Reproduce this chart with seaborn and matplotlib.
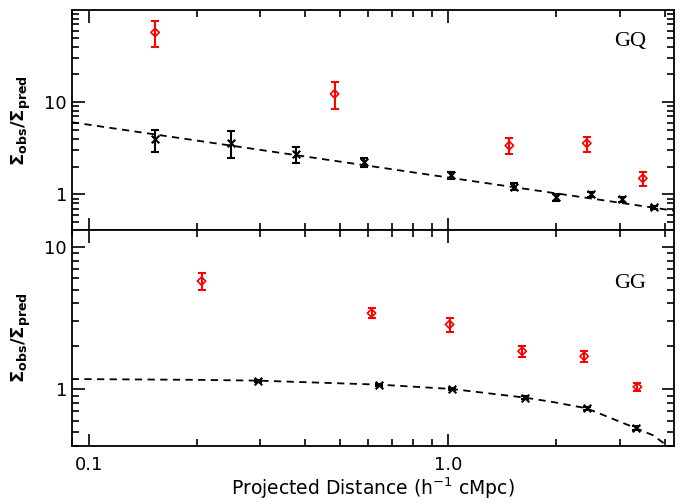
import numpy as np
import pandas as pd
import seaborn as sns
import matplotlib.pyplot as plt
from matplotlib.ticker import LogLocator, FixedLocator, NullFormatter

# GQ panel: red diamonds (observed excess) and black crosses (with fit)
gq_red_x = [0.153, 0.483, 1.48, 2.43, 3.48]
gq_red_y = [57.2, 12.3, 3.38, 3.58, 1.49]
gq_red_lo = [39.3, 8.46, 2.74, 2.88, 1.23]
gq_red_hi = [75.3, 16.5, 4.06, 4.23, 1.73]

gq_blk_x = [0.153, 0.249, 0.378, 0.585, 1.017, 1.52, 1.99, 2.50, 3.05, 3.74]
gq_blk_y = [3.96, 3.64, 2.74, 2.23, 1.62, 1.21, 0.928, 1.0, 0.882, 0.722]
gq_blk_lo = [2.86, 2.48, 2.21, 2.0, 1.47, 1.105, 0.839, 0.943, 0.825, 0.70]
gq_blk_hi = [5.0, 4.84, 3.30, 2.50, 1.76, 1.32, 1.008, 1.06, 0.943, 0.745]

gq_model_x = [0.0898, 4.25]
gq_model_y = [6.06, 0.664]

# GG panel
gg_red_x = [0.206, 0.612, 1.009, 1.606, 2.39, 3.36]
gg_red_y = [5.74, 3.42, 2.85, 1.85, 1.705, 1.04]
gg_red_lo = [4.96, 3.15, 2.54, 1.69, 1.56, 0.968]
gg_red_hi = [6.57, 3.69, 3.14, 2.02, 1.85, 1.108]

gg_blk_x = [0.296, 0.644, 1.023, 1.638, 2.43, 3.34]
gg_blk_y = [1.15, 1.078, 1.005, 0.874, 0.735, 0.532]
gg_blk_lo = [1.13, 1.06, 0.985, 0.855, 0.72, 0.515]
gg_blk_hi = [1.17, 1.096, 1.025, 0.893, 0.75, 0.55]

gg_model_x = [0.0897, 0.2, 0.296, 0.644, 1.023, 1.638, 1.98, 2.43, 3.34, 3.72, 4.25]
gg_model_y = [1.18, 1.165, 1.15, 1.078, 1.005, 0.874, 0.81, 0.735, 0.532, 0.475, 0.37]

sns.set_style("ticks")
plt.rcParams['font.family'] = ['DejaVu Sans']
plt.rcParams['mathtext.fontset'] = 'dejavusans'
plt.rcParams['text.color'] = 'black'
plt.rcParams['axes.labelcolor'] = 'black'
plt.rcParams['xtick.color'] = 'black'
plt.rcParams['ytick.color'] = 'black'

fig = plt.figure(figsize=(6.85, 5.04), dpi=100)
ax_top = fig.add_axes([0.105, 0.5437, 0.879, 0.4363])
ax_bot = fig.add_axes([0.105, 0.115, 0.879, 0.4287])


def draw_points(ax, x, y, lo, hi, color, marker, msize, mew):
    y = np.array(y)
    yerr = [y - np.array(lo), np.array(hi) - y]
    ax.errorbar(x, y, yerr=yerr, fmt='none', ecolor=color, elinewidth=1.5,
                capsize=3, capthick=1.5, zorder=3)
    df = pd.DataFrame({'x': x, 'y': y})
    if marker == 'x':
        sns.scatterplot(data=df, x='x', y='y', ax=ax, marker='x', color=color,
                        s=msize, linewidth=mew, zorder=4, legend=False)
    else:
        sns.scatterplot(data=df, x='x', y='y', ax=ax, marker='D',
                        facecolor='none', edgecolor=color, s=msize,
                        linewidth=mew, zorder=4, legend=False)


def draw_model(ax, x, y):
    df = pd.DataFrame({'x': x, 'y': y})
    sns.lineplot(data=df, x='x', y='y', ax=ax, color='black', lw=1.3,
                 linestyle=(0, (4, 3)), zorder=2, legend=False)


draw_model(ax_top, gq_model_x, gq_model_y)
draw_points(ax_top, gq_blk_x, gq_blk_y, gq_blk_lo, gq_blk_hi, 'black', 'x', 30, 1.5)
draw_points(ax_top, gq_red_x, gq_red_y, gq_red_lo, gq_red_hi, 'red', 'D', 18, 1.2)

draw_model(ax_bot, gg_model_x, gg_model_y)
draw_points(ax_bot, gg_blk_x, gg_blk_y, gg_blk_lo, gg_blk_hi, 'black', 'x', 30, 1.5)
draw_points(ax_bot, gg_red_x, gg_red_y, gg_red_lo, gg_red_hi, 'red', 'D', 18, 1.2)

for ax, ylim in [(ax_top, (0.41, 100)), (ax_bot, (0.40, 13.1))]:
    ax.set_xscale('log')
    ax.set_yscale('log')
    ax.set_xlim(0.0898, 4.25)
    ax.set_ylim(*ylim)
    ax.xaxis.set_major_locator(FixedLocator([0.1, 1.0]))
    ax.xaxis.set_minor_locator(LogLocator(base=10, subs=np.arange(2, 10)))
    ax.yaxis.set_major_locator(FixedLocator([1, 10]))
    ax.yaxis.set_minor_locator(LogLocator(base=10, subs=np.arange(2, 10)))
    ax.yaxis.set_minor_formatter(NullFormatter())
    ax.xaxis.set_minor_formatter(NullFormatter())
    ax.set_yticklabels(['1', '10'])
    ax.tick_params(which='both', direction='in', top=True, right=True,
                   width=1.2, labelsize=13, color='black', labelcolor='black')
    ax.tick_params(which='major', length=9)
    ax.tick_params(which='minor', length=5)
    for s in ax.spines.values():
        s.set_linewidth(1.3)
        s.set_color('black')
    ax.set_ylabel(r'$\mathbf{\Sigma_{obs}/\Sigma_{pred}}$', fontsize=13, labelpad=8)
    ax.set_xlabel('')

ax_top.set_xticklabels([])
ax_bot.set_xticklabels(['0.1', '1.0'])
ax_bot.tick_params(axis='x', which='major', pad=7)
ax_bot.set_xlabel(r'Projected Distance (h$^{-1}$ cMpc)', fontsize=13.5, labelpad=1)

ax_top.text(0.953, 0.855, 'GQ', transform=ax_top.transAxes, ha='right',
            va='center', fontsize=16, family=['Liberation Serif'])
ax_bot.text(0.953, 0.75, 'GG', transform=ax_bot.transAxes, ha='right',
            va='center', fontsize=16, family=['Liberation Serif'])

fig.savefig('out.png', dpi=100)
